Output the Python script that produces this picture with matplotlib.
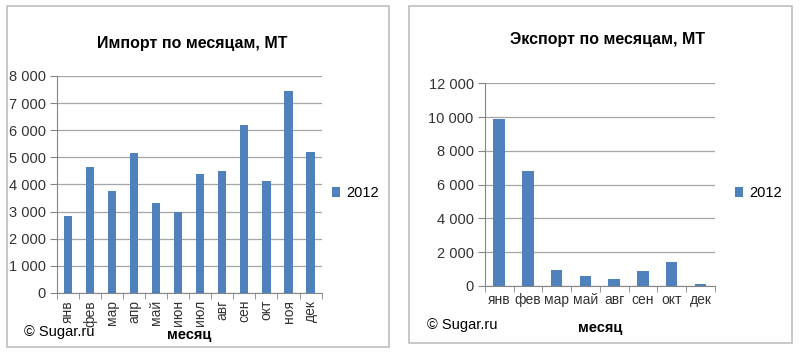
import numpy as np
import matplotlib.pyplot as plt
from matplotlib.ticker import FuncFormatter, FixedLocator
from matplotlib.patches import Rectangle

plt.rcParams['font.family'] = ['Liberation Sans', 'DejaVu Sans']

# data
imp_months = ['янв', 'фев', 'мар', 'апр', 'май', 'июн', 'июл', 'авг', 'сен', 'окт', 'ноя', 'дек']
imp_vals = [2850, 4640, 3740, 5150, 3310, 2990, 4380, 4480, 6200, 4110, 7450, 5210]
exp_months = ['янв', 'фев', 'мар', 'май', 'авг', 'сен', 'окт', 'дек']
exp_vals = [9880, 6800, 930, 550, 415, 890, 1420, 120]
series = '2012'

bar_col = '#4F81BD'
grid_col = '#A6A6A6'
fmt = FuncFormatter(lambda v, p: '{:,.0f}'.format(v).replace(',', ' '))

fig = plt.figure(figsize=(8, 3.53), dpi=100)

# panel frames
for x0, w, y0, h in [(7, 382, 6, 341), (409, 383, 6, 337)]:
    fig.patches.append(Rectangle((x0 / 800, 1 - (y0 + h) / 353), w / 800, h / 353,
                                 transform=fig.transFigure, fill=False,
                                 edgecolor='#BFBFBF', lw=1.2))


def style(ax, cats, vals, ymax, step, width, rot):
    x = np.arange(len(cats))
    ax.bar(x, vals, width=width, color=bar_col, label=series, zorder=3)
    ax.set_xlim(-0.5, len(cats) - 0.5)
    ax.set_ylim(0, ymax)
    ax.yaxis.set_major_locator(FixedLocator(np.arange(0, ymax + 1, step)))
    ax.yaxis.set_major_formatter(fmt)
    ax.grid(axis='y', color=grid_col, lw=0.9, zorder=0)
    ax.set_xticks(x)
    ax.set_xticklabels(cats, rotation=rot, fontsize=10, color='#333333')
    ax.tick_params(axis='x', length=0, pad=5)
    ax.set_xticks(np.arange(-0.5, len(cats)), minor=True)
    ax.tick_params(axis='x', which='minor', length=4, color='#868686')
    ax.tick_params(axis='y', length=5, color='#868686', labelsize=10.5, pad=3,
                   labelcolor='#333333')
    for s in ['top', 'right']:
        ax.spines[s].set_visible(False)
    for s in ['left', 'bottom']:
        ax.spines[s].set_color('#868686')


ax1 = fig.add_axes([0.071, 0.170, 0.331, 0.615])
style(ax1, imp_months, imp_vals, 8000, 1000, 0.37, 90)
fig.text(0.24, 0.878, 'Импорт по месяцам, МТ', ha='center', va='center',
         fontsize=11.5, fontweight='bold')
fig.text(0.237, 0.05, 'месяц', ha='center', va='center', fontsize=10.5, fontweight='bold')
fig.text(0.03, 0.06, '© Sugar.ru', ha='left', va='center', fontsize=10.5)
ax1.legend(loc='center left', bbox_to_anchor=(0.398, 0.453), bbox_transform=fig.transFigure,
           frameon=False, fontsize=10.5, handlelength=0.6, handleheight=0.6, handletextpad=0.4)

ax2 = fig.add_axes([0.606, 0.1906, 0.2875, 0.573])
style(ax2, exp_months, exp_vals, 12000, 2000, 0.4, 0)
fig.text(0.759, 0.887, 'Экспорт по месяцам, МТ', ha='center', va='center',
         fontsize=11.5, fontweight='bold')
fig.text(0.75, 0.07, 'месяц', ha='center', va='center', fontsize=10.5, fontweight='bold')
fig.text(0.534, 0.08, '© Sugar.ru', ha='left', va='center', fontsize=10.5)
ax2.legend(loc='center left', bbox_to_anchor=(0.902, 0.453), bbox_transform=fig.transFigure,
           frameon=False, fontsize=10.5, handlelength=0.6, handleheight=0.6, handletextpad=0.4)

fig.savefig('out.png', dpi=100)
